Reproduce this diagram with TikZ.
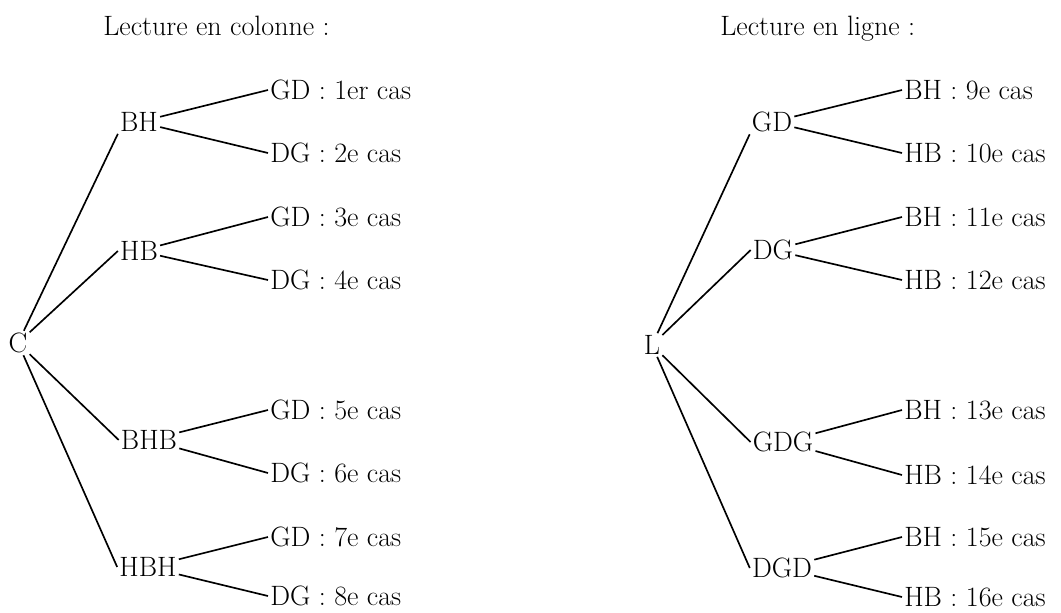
\documentclass[tikz,border=0pt]{standalone}
\begin{document}
\begin{tikzpicture}[x=0.75pt,y=-0.75pt,
  every node/.style={font=\fontsize{21}{25}\selectfont, inner sep=1.5pt},
  conn/.style={line width=1.25pt},
  leaf/.style={anchor=west},
  title/.style={anchor=base west, inner sep=0pt}]
\useasboundingbox[fill=white] (0,0) rectangle (1061,612);
% titles
\node[title] (t1) at (103,35) {Lecture en colonne :};
\node[title] (t2) at (720,35) {Lecture en ligne :};
% left tree
\node (C) at (18,343) {C};
\node (BH) at (139,122) {BH};
\node (HB) at (139,251) {HB};
\node (BHB) at (149,440) {BHB};
\node (HBH) at (148,567) {HBH};
\node[leaf] (a1) at (268,90) {GD : 1er cas};
\node[leaf] (a2) at (268,153) {DG : 2e cas};
\node[leaf] (a3) at (268,217) {GD : 3e cas};
\node[leaf] (a4) at (268,280) {DG : 4e cas};
\node[leaf] (a5) at (268,410) {GD : 5e cas};
\node[leaf] (a6) at (268,473) {DG : 6e cas};
\node[leaf] (a7) at (268,537) {GD : 7e cas};
\node[leaf] (a8) at (268,596) {DG : 8e cas};
\draw[conn] (C) -- (BH.south west);
\draw[conn] (C) -- (HB.west);
\draw[conn] (C) -- (BHB.west);
\draw[conn] (C) -- (HBH.west);
\draw[conn] (BH) -- (a1.west);
\draw[conn] (BH) -- (a2.west);
\draw[conn] (HB) -- (a3.west);
\draw[conn] (HB) -- (a4.west);
\draw[conn] (BHB) -- (a5.west);
\draw[conn] (BHB) -- (a6.west);
\draw[conn] (HBH) -- (a7.west);
\draw[conn] (HBH) -- (a8.west);
% right tree
\node (L) at (652,345) {L};
\node (GD) at (772,122) {GD};
\node (DG) at (773,250) {DG};
\node (GDG) at (783,442) {GDG};
\node (DGD) at (782,568) {DGD};
\node[leaf] (b1) at (902,90) {BH : 9e cas};
\node[leaf] (b2) at (902,153) {HB : 10e cas};
\node[leaf] (b3) at (902,217) {BH : 11e cas};
\node[leaf] (b4) at (902,280) {HB : 12e cas};
\node[leaf] (b5) at (902,410) {BH : 13e cas};
\node[leaf] (b6) at (902,475) {HB : 14e cas};
\node[leaf] (b7) at (902,537) {BH : 15e cas};
\node[leaf] (b8) at (902,597) {HB : 16e cas};
\draw[conn] (L) -- (GD.south west);
\draw[conn] (L) -- (DG.west);
\draw[conn] (L) -- (GDG.west);
\draw[conn] (L) -- (DGD.west);
\draw[conn] (GD) -- (b1.west);
\draw[conn] (GD) -- (b2.west);
\draw[conn] (DG) -- (b3.west);
\draw[conn] (DG) -- (b4.west);
\draw[conn] (GDG) -- (b5.west);
\draw[conn] (GDG) -- (b6.west);
\draw[conn] (DGD) -- (b7.west);
\draw[conn] (DGD) -- (b8.west);
\end{tikzpicture}
\end{document}
